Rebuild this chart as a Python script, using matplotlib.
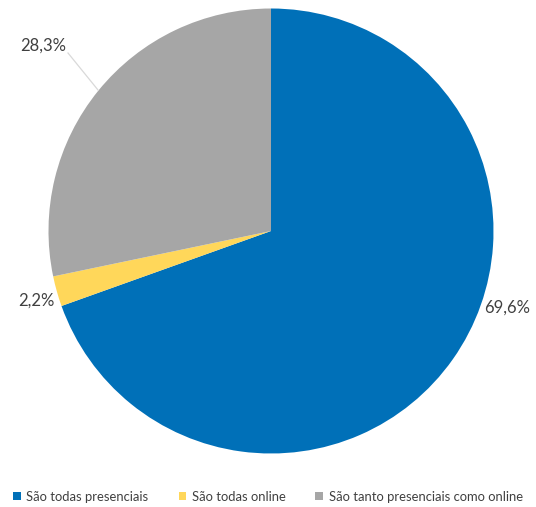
import matplotlib
matplotlib.use("Agg")
import matplotlib.pyplot as plt
from matplotlib.patches import Patch

categories = ["São todas presenciais", "São todas online", "São tanto presenciais como online"]
values = [69.6, 2.2, 28.3]
labels = ["69,6%", "2,2%", "28,3%"]
colors = ["#0070B8", "#FFD75A", "#A6A6A6"]

plt.rcParams['font.family'] = ['Lato', 'DejaVu Sans']

W, H = 536, 507
fig = plt.figure(figsize=(W / 100, H / 100), dpi=100)
ax = fig.add_axes([0, 0, 1, 1])

cx, cy, r = 271, H - 231, 222.5
ax.pie(values, colors=colors, startangle=90, counterclock=False,
       center=(cx, cy), radius=r, frame=True,
       wedgeprops=dict(linewidth=0))
ax.set_xlim(0, W)
ax.set_ylim(0, H)
ax.set_aspect('equal')
ax.axis('off')

txt = dict(fontsize=12, color="#404040", va='center')
ax.text(484, H - 308, labels[0], ha='left', **txt)
ax.text(55, H - 301, labels[1], ha='right', **txt)
ax.text(66, H - 46, labels[2], ha='right', **txt)
ax.plot([68, 98], [H - 53, H - 90], color="#D9D9D9", lw=0.9)

handles = [Patch(facecolor=c, edgecolor='none') for c in colors]
leg = fig.legend(handles, categories, loc='center', bbox_to_anchor=(0.5, 1 - 497 / H),
                 ncol=3, frameon=False, fontsize=9.4, handlelength=0.55, handleheight=0.55,
                 handletextpad=0.45, columnspacing=2.3, labelcolor="#404040")

fig.savefig("out.png", dpi=100)
